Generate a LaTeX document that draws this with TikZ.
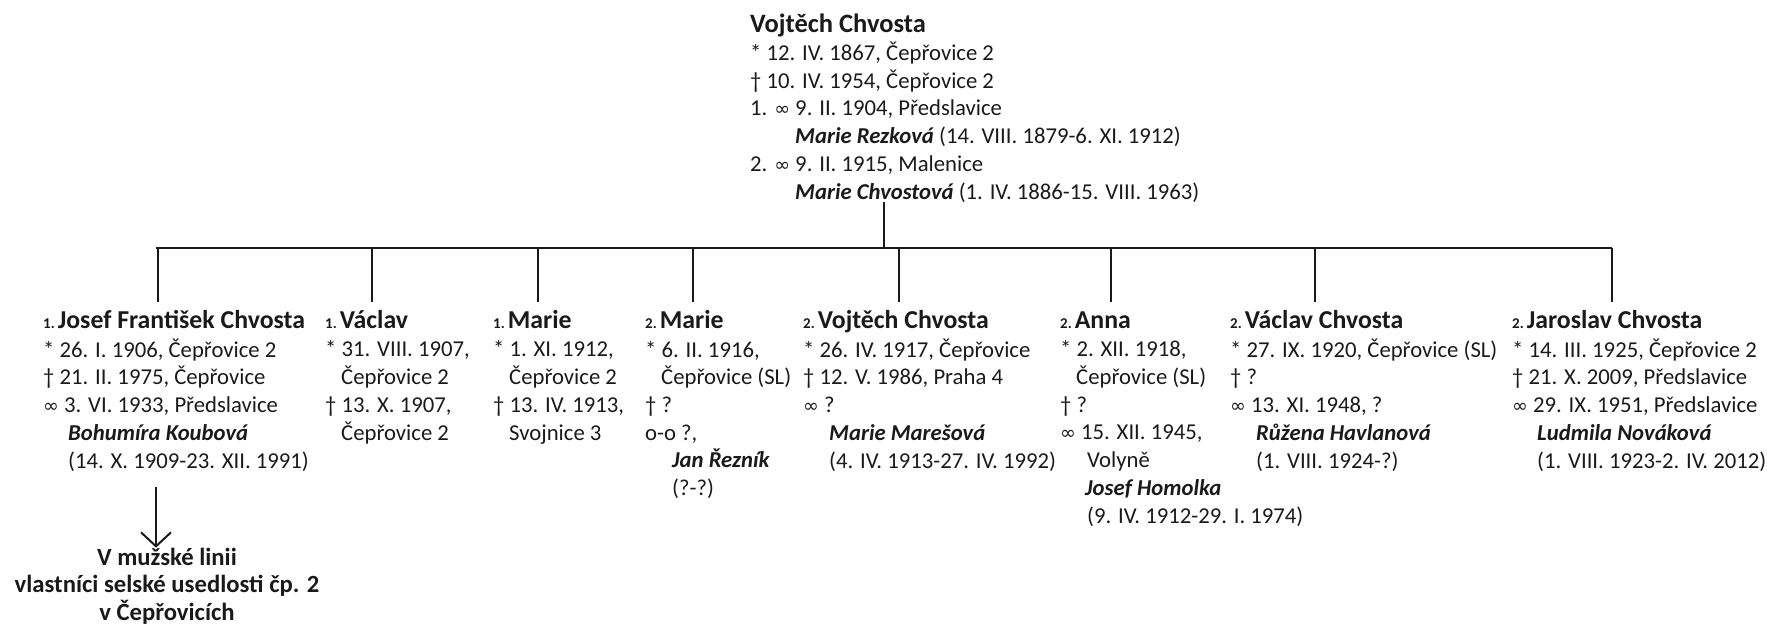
\documentclass[tikz,border=0pt]{standalone}
\usepackage{fontspec}
\setmainfont{Carlito}
\newfontfamily\symf{DejaVu Sans}
\usetikzlibrary{arrows.meta}
\newcommand\marr{{\symf\fontsize{19}{19}\selectfont ∞}}
\newcommand\spouse[1]{\textbf{\textit{#1}}}
\newcommand\pre[1]{{\fontsize{15}{15}\selectfont #1}\hspace{3pt}}
\newcommand\bodyf{\fontsize{22.7}{27.7}\selectfont}
\newcommand\ttlf{\fontsize{25.8}{30}\selectfont\bfseries}
\definecolor{ink}{HTML}{1A1A1A}
\begin{document}
\begin{tikzpicture}[x=1pt,y=-1pt,
  ttl/.style={anchor=base west, inner sep=0pt, font=\ttlf, text height=26pt, text=ink},
  body/.style={anchor=base west, inner sep=0pt, align=left, font=\bodyf, text=ink},
  con/.style={draw=ink, line width=1.6pt}]
\useasboundingbox (0,0) rectangle (1767,627);
% top person (body nodes are placed at the baseline of their last line)
\node[ttl, font=\fontsize{26.5}{30}\selectfont\bfseries] (topT) at (750,32) {Vojtěch Chvosta};
\node[body] (topB) at (750,199) {* 12. IV. 1867, Čepřovice 2\\
† 10. IV. 1954, Čepřovice 2\\
1. \marr{} 9. II. 1904, Předslavice\\
\hspace*{45pt}\spouse{Marie Rezková} (14. VIII. 1879-6. XI. 1912)\\
2. \marr{} 9. II. 1915, Malenice\\
\hspace*{45pt}\spouse{Marie Chvostová} (1. IV. 1886-15. VIII. 1963)};
% bus
\coordinate (pv) at (884,248);
\coordinate (busL) at (157,248);
\coordinate (busR) at (1611,248);
\draw[con] (topB.south -| pv) -- (pv);
\draw[con, line cap=rect] (busL) -- (busR);
% children
\node[ttl] (t1) at (43,328) {\pre{1.}Josef František Chvosta};
\node[body] (b1) at (43,468) {* 26. I. 1906, Čepřovice 2\\
† 21. II. 1975, Čepřovice\\
\marr{} 3. VI. 1933, Předslavice\\
\hspace*{25pt}\spouse{Bohumíra Koubová}\\
\hspace*{25pt}(14. X. 1909-23. XII. 1991)};
\node[ttl] (t2) at (325,328) {\pre{1.}Václav};
\node[body] (b2) at (325,440) {* 31. VIII. 1907,\\
\hspace*{16pt}Čepřovice 2\\
† 13. X. 1907,\\
\hspace*{16pt}Čepřovice 2};
\node[ttl] (t3) at (493,328) {\pre{1.}Marie};
\node[body] (b3) at (493,440) {* 1. XI. 1912,\\
\hspace*{16pt}Čepřovice 2\\
† 13. IV. 1913,\\
\hspace*{16pt}Svojnice 3};
\node[ttl] (t4) at (645,328) {\pre{2.}Marie};
\node[body] (b4) at (645,495.5) {* 6. II. 1916,\\
\hspace*{16pt}Čepřovice (SL)\\
† ?\\
o-o ?,\\
\hspace*{27pt}\spouse{Jan Řezník}\\
\hspace*{27pt}(?-?)};
\node[ttl] (t5) at (803,328) {\pre{2.}Vojtěch Chvosta};
\node[body] (b5) at (803,468) {* 26. IV. 1917, Čepřovice\\
† 12. V. 1986, Praha 4\\
\marr{} ?\\
\hspace*{26pt}\spouse{Marie Marešová}\\
\hspace*{26pt}(4. IV. 1913-27. IV. 1992)};
\node[ttl] (t6) at (1060,328) {\pre{2.}Anna};
\node[body] (b6) at (1060,523) {* 2. XII. 1918,\\
\hspace*{16pt}Čepřovice (SL)\\
† ?\\
\marr{} 15. XII. 1945,\\
\hspace*{27pt}Volyně\\
\hspace*{25pt}\spouse{Josef Homolka}\\
\hspace*{27pt}(9. IV. 1912-29. I. 1974)};
\node[ttl] (t7) at (1230,328) {\pre{2.}Václav Chvosta};
\node[body] (b7) at (1230,468) {* 27. IX. 1920, Čepřovice (SL)\\
† ?\\
\marr{} 13. XI. 1948, ?\\
\hspace*{26pt}\spouse{Růžena Havlanová}\\
\hspace*{26pt}(1. VIII. 1924-?)};
\node[ttl] (t8) at (1512,328) {\pre{2.}Jaroslav Chvosta};
\node[body] (b8) at (1512,468) {* 14. III. 1925, Čepřovice 2\\
† 21. X. 2009, Předslavice\\
\marr{} 29. IX. 1951, Předslavice\\
\hspace*{25pt}\spouse{Ludmila Nováková}\\
\hspace*{25pt}(1. VIII. 1923-2. IV. 2012)};
% drops
\foreach \x/\n in {158/1,372/2,538/3,693/4,899/5,1111/6,1315/7,1612/8}{
  \coordinate (d\n) at (\x,248);
  \draw[con] (d\n) -- (d\n |- t\n.north);
}
% note
\node[anchor=base, inner sep=0pt, outer sep=0pt, align=center, text=ink,
  font=\fontsize{24.7}{27.5}\selectfont\bfseries] (note) at (167,620)
  {V mužské linii\\vlastníci selské usedlosti čp. 2\\v Čepřovicích};
\coordinate (a0) at (156,487);
\draw[draw=ink, line width=2pt, -{Straight Barb[length=14pt,width=30pt,line width=2pt]}]
  (a0) -- (a0 |- note.north);
\end{tikzpicture}
\end{document}
